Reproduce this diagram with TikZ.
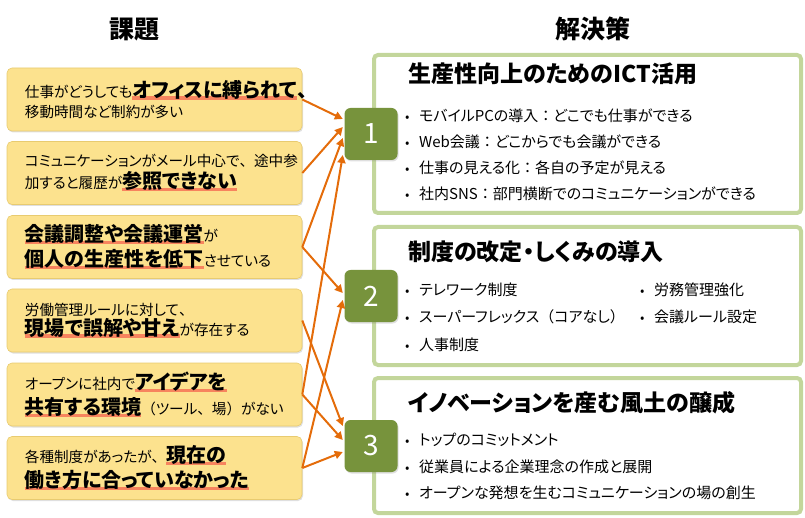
\documentclass[tikz,border=0pt]{standalone}
\usepackage{fontspec}
\setmainfont{Noto Sans CJK JP}[RawFeature=+palt]
\newfontfamily\jpfw{Noto Sans CJK JP}
\usetikzlibrary{arrows.meta,shadows,calc}
\definecolor{issuefill}{HTML}{FCE28E}
\definecolor{issueline}{HTML}{E8CB70}
\definecolor{solline}{HTML}{C3D69B}
\definecolor{numfill}{HTML}{77933C}
\definecolor{arrowc}{HTML}{E46C0A}
\definecolor{hlc}{HTML}{F7845E}
\newcommand\fw[1]{{\jpfw #1}}
\newcommand\mk[1]{\setbox0\hbox{\bfseries\fontsize{20}{22}\selectfont #1}\leavevmode\rlap{\color{hlc}\rule[-2.5pt]{\wd0}{3.5pt}}\box0}
\newcommand\mkb[1]{{\bfseries\fontsize{20}{22}\selectfont #1}}
\tikzset{
  issuebox/.style={draw=issueline, line width=0.6pt, fill=issuefill, rounded corners=5pt,
    minimum width=295pt, minimum height=63pt, inner sep=0pt,
    drop shadow={shadow xshift=1pt, shadow yshift=-1.5pt, opacity=0.25}},
  issuetext/.style={anchor=west, align=left, inner sep=0pt, font=\fontsize{14.6}{#1}\selectfont},
  solbox/.style={draw=solline, line width=4pt, fill=white, rounded corners=4pt, inner sep=0pt},
  numbox/.style={fill=numfill, rounded corners=6pt, minimum width=53pt, minimum height=52pt,
    inner sep=0pt, text=white, font=\fontsize{28}{28}\selectfont,
    drop shadow={shadow xshift=1pt, shadow yshift=-1.5pt, opacity=0.25}},
  soltitle/.style={anchor=west, inner sep=0pt, font=\bfseries\fontsize{23}{25}\selectfont},
  bul/.style={anchor=west, inner sep=0pt, font=\fontsize{15}{17}\selectfont},
  headtitle/.style={inner sep=0pt, font=\bfseries\fontsize{25}{27}\selectfont},
  conn/.style={draw=arrowc, line width=2pt, -{Triangle[length=8pt,width=8pt]}}
}
\newcommand\bl{\makebox[14pt][l]{\raisebox{0.5pt}{\fontsize{13}{13}\selectfont •}}}
\begin{document}
\begin{tikzpicture}[x=1pt,y=-1pt]
\useasboundingbox (0,0) rectangle (805,518);

% headings
\node[headtitle] (h1) at (134,29) {課題};
\node[headtitle] (h2) at (593,29) {解決策};

% solution boxes
\node[solbox, minimum width=427pt, minimum height=158pt] (s1) at (587.5,134) {};
\node[solbox, minimum width=427pt, minimum height=138pt] (s2) at (587.5,296) {};
\node[solbox, minimum width=427pt, minimum height=135pt] (s3) at (587.5,445.5) {};

\node[soltitle] (t1) at (408,74) {生産性向上のためのICT活用};
\node[bul] (b11) at (405,116) {\bl モバイルPCの導入\fw{：}どこでも仕事ができる};
\node[bul] (b12) at (405,142) {\bl Web会議\fw{：}どこからでも会議ができる};
\node[bul] (b13) at (405,168) {\bl 仕事の見える化\fw{：}各自の予定が見える};
\node[bul] (b14) at (405,194) {\bl 社内SNS\fw{：}部門横断でのコミュニケーションができる};

\node[soltitle] (t2) at (408,252) {制度の改定・しくみの導入};
\node[bul] (b21) at (405,290) {\bl テレワーク制度};
\node[bul] (b22) at (405,317) {\bl スーパーフレックス\fw{（}コアなし\fw{）}};
\node[bul] (b23) at (405,345) {\bl 人事制度};
\node[bul] (b24) at (640,290) {\bl 労務管理強化};
\node[bul] (b25) at (640,317) {\bl 会議ルール設定};

\node[soltitle] (t3) at (408,403) {イノベーションを産む風土の醸成};
\node[bul] (b31) at (405,440) {\bl トップのコミットメント};
\node[bul] (b32) at (405,467) {\bl 従業員による企業理念の作成と展開};
\node[bul] (b33) at (405,493) {\bl オープンな発想を生むコミュニケーションの場の創生};

% issue boxes
\node[issuebox] (i1) at (154.5,99.5) {};
\node[issuebox] (i2) at (154.5,173) {};
\node[issuebox] (i3) at (154.5,247) {};
\node[issuebox] (i4) at (154.5,320.5) {};
\node[issuebox] (i5) at (154.5,394.5) {};
\node[issuebox] (i6) at (154.5,468) {};

\node[issuetext=20] (q1) at ([xshift=18pt]i1.west) {仕事がどうしても\mk{オフィスに縛られて}\mkb{、}\\移動時間など制約が多い};
\node[issuetext=22] (q2) at ([xshift=18pt]i2.west) {コミュニケーションがメール中心で\fw{、}途中参\\加すると履歴が\mk{参照できない}};
\node[issuetext=25] (q3) at ([xshift=18pt]i3.west) {\mk{会議調整や会議運営}が\\\mk{個人の生産性を低下}させている};
\node[issuetext=20] (q4) at ([xshift=18pt]i4.west) {労働管理ルールに対して\fw{、}\\\mk{現場で誤解や甘え}が存在する};
\node[issuetext=25] (q5) at ([xshift=18pt]i5.west) {オープンに社内で\mk{アイデアを}\\\mk{共有する環境}\fw{（}ツール\fw{、}場\fw{）}がない};
\node[issuetext=25] (q6) at ([xshift=18pt]i6.west) {各種制度があったが\fw{、}\mk{現在の}\\\mk{働き方に合っていなかった}};

% number boxes
\node[numbox] (n1) at (371,134) {1};
\node[numbox] (n2) at (371,296) {2};
\node[numbox] (n3) at (371,446) {3};

% connectors
\draw[conn] (i1.east) -- ([xshift=-1.5pt,yshift=15pt]n1.west);
\draw[conn] (i2.east) -- ([xshift=-1.5pt,yshift=7pt]n1.west);
\draw[conn] (i3.east) -- ([xshift=-1.5pt,yshift=-4pt]n1.west);
\draw[conn] (i3.east) -- ([xshift=-1.5pt,yshift=3pt]n2.west);
\draw[conn] (i4.east) -- ([xshift=-1.5pt,yshift=20pt]n3.west);
\draw[conn] (i5.east) -- ([xshift=-1.5pt,yshift=-21pt]n1.west);
\draw[conn] (i5.east) -- ([xshift=-1.5pt,yshift=6pt]n3.west);
\draw[conn] (i6.east) -- ([xshift=-1.5pt,yshift=-4pt]n2.west);
\draw[conn] (i6.east) -- ([xshift=-1.5pt,yshift=-6pt]n3.west);
\end{tikzpicture}
\end{document}
